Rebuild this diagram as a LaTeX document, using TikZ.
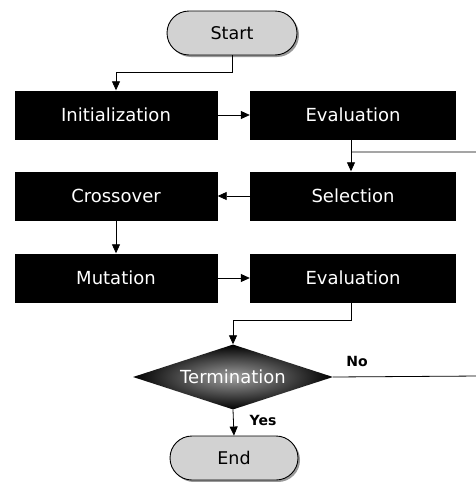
\documentclass[tikz,border=0pt]{standalone}
\usepackage{fontspec}
\setmainfont{DejaVu Sans}
\usetikzlibrary{arrows.meta,shapes.geometric,shapes.misc,shadows}
\begin{document}
\begin{tikzpicture}[x=1pt,y=-1pt,
  pill/.style={rounded rectangle, draw=black, line width=0.9pt, fill=gray!35,
    minimum width=130pt, minimum height=44pt, inner sep=0pt,
    font=\fontsize{17.5}{20}\selectfont,
    drop shadow={shadow xshift=2pt, shadow yshift=-2pt, fill=gray!80, opacity=1}},
  blk/.style={rectangle, fill=black, text=white, minimum width=203pt, minimum height=49pt,
    inner sep=0pt, font=\fontsize{18}{20}\selectfont},
  blkr/.style={blk, minimum width=206pt},
  dec/.style={diamond, shading=radial, inner color=gray!75, outer color=black,
    text=white, minimum width=200pt, minimum height=65pt, aspect=3, inner sep=0pt,
    font=\fontsize{18}{20}\selectfont},
  lbl/.style={font=\bfseries\fontsize{14}{16}\selectfont},
  conn/.style={line width=0.8pt, -{Triangle[length=9pt,width=8pt]}},
  ln/.style={line width=0.8pt}]
\useasboundingbox (0,0) rectangle (476,482);
\clip (0,0) rectangle (476,482);
\fill[white] (0,0) rectangle (476,482);

\node[pill] (start) at (232,33) {Start};
\node[blk] (init) at (116,115) {Initialization};
\node[blkr] (eval1) at (353,115) {Evaluation};
\node[blk] (cross) at (116,196) {Crossover};
\node[blkr] (sel) at (353,196) {Selection};
\node[blk] (mut) at (116,278) {Mutation};
\node[blkr] (eval2) at (353,278) {Evaluation};
\node[dec] (term) at (233,377) {Termination};
\node[pill, minimum width=128pt] (end) at (234,458) {End};

\node[lbl] (no) at (357,361) {No};
\node[lbl] (yes) at (263,420) {Yes};

\coordinate (j1) at ([xshift=-2pt]eval1.south |- 0,152);
\coordinate (r1) at (480,152);
\coordinate (r2) at (480,376);

\draw[conn] (start.south) -- ++(0,17) -| (init.north);
\draw[conn] (init.east) -- (eval1.west);
\draw[conn] ([xshift=-2pt]eval1.south) -- ([xshift=-2pt]sel.north);
\draw[conn] (sel.west) -- (cross.east);
\draw[conn] (cross.south) -- (mut.north);
\draw[conn] (mut.east) -- (eval2.west);
\draw[conn] ([xshift=-2pt]eval2.south) -- ++(0,18) -| (term.north);
\draw[conn] (term.south) -- (end.north);
\draw[ln] (term.east) -- (r2) -- (r1) -- (j1);
\end{tikzpicture}
\end{document}
